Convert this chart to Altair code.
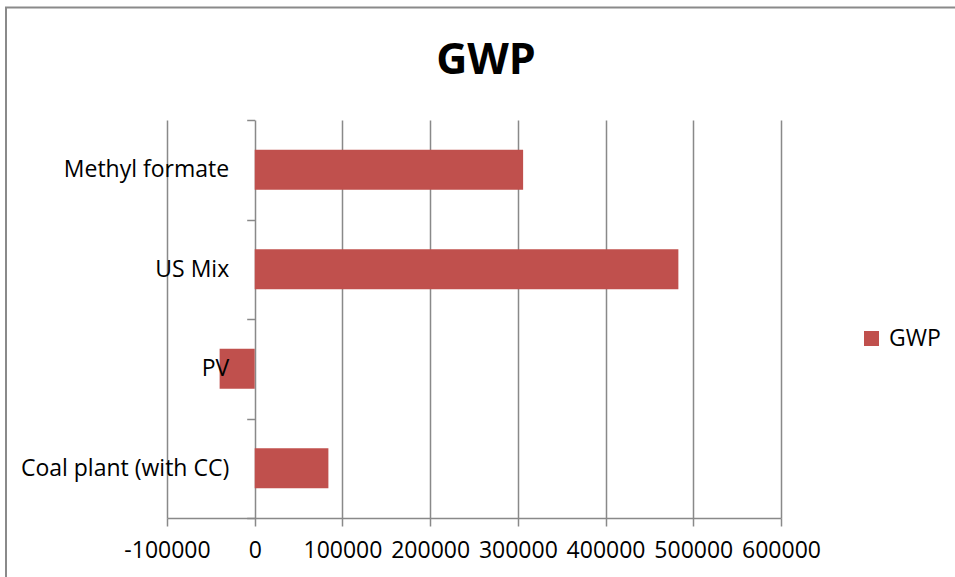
import altair as alt
import pandas as pd

# Global warming potential by electricity source
categories = ["Methyl formate", "US Mix", "PV", "Coal plant (with CC)"]
gwp_values = [306000, 483000, -40000, 84000]
series_name = "GWP"
x_ticks = [-100000, 0, 100000, 200000, 300000, 400000, 500000, 600000]

df = pd.DataFrame({"category": categories, "value": gwp_values, "series": series_name})

GRID = "#898989"
BAR = "#C0504D"
FONT = "Open Sans"

# band layout: step = 398 / 4 = 99.5, bandwidth = 0.4 * step
HALF_GAP = 0.3 * 99.5

bars = alt.Chart(df).mark_bar().encode(
    x=alt.X(
        "value:Q",
        scale=alt.Scale(domain=[-100000, 600000], nice=False, zero=False),
        axis=alt.Axis(
            values=x_ticks, labelExpr="'' + datum.value", title=None,
            grid=True, gridColor=GRID, gridWidth=1.5,
            domainColor=GRID, domainWidth=1.5,
            tickColor=GRID, tickSize=8, tickWidth=1.5,
            labelFontSize=23, labelFont=FONT, labelColor="black",
            labelPadding=13, labelFlush=False, labelOverlap=False,
        ),
    ),
    y=alt.Y(
        "category:N",
        sort=categories,
        scale=alt.Scale(paddingInner=0.6, paddingOuter=0.3),
        axis=alt.Axis(
            title=None, domain=False, grid=False, offset=-87.7,
            # ticks on the category boundaries, labels centred on the bars
            bandPosition=2.5, tickOffset=-HALF_GAP, tickExtra=True,
            labelOffset=HALF_GAP,
            tickSize=8, tickColor=GRID, tickWidth=1.5,
            labelFontSize=23, labelFont=FONT, labelColor="black",
            labelPadding=18, labelLimit=400, zindex=1,
        ),
    ),
    color=alt.Color(
        "series:N",
        scale=alt.Scale(range=[BAR]),
        legend=alt.Legend(
            title=None, orient="none", legendX=693, legendY=207,
            symbolType="square", symbolSize=225, symbolStrokeWidth=0,
            symbolOpacity=1, labelFontSize=23, labelFont=FONT,
            labelColor="black", labelOffset=6,
        ),
    ),
)

# Outer frame around the whole chart
frame = alt.Chart(alt.Data(values=[{}])).mark_rect(
    filled=False, stroke="#8a8a8a", strokeWidth=2
).encode(
    x=alt.value(-161), x2=alt.value(830),
    y=alt.value(-112.5), y2=alt.value(480),
)

chart = alt.layer(bars, frame).properties(
    width=614,
    height=398,
    title=alt.TitleParams(
        "GWP", fontSize=43, fontWeight="bold", font=FONT, color="black",
        anchor="middle", dx=12, offset=-110, baseline="alphabetic",
    ),
    autosize=alt.AutoSizeParams(type="none"),
    padding={"left": 167, "top": 120, "right": 174, "bottom": 59},
    background="white",
).configure_view(stroke=None)

chart.save("out.html", embed_options={"renderer": "svg", "actions": False})
